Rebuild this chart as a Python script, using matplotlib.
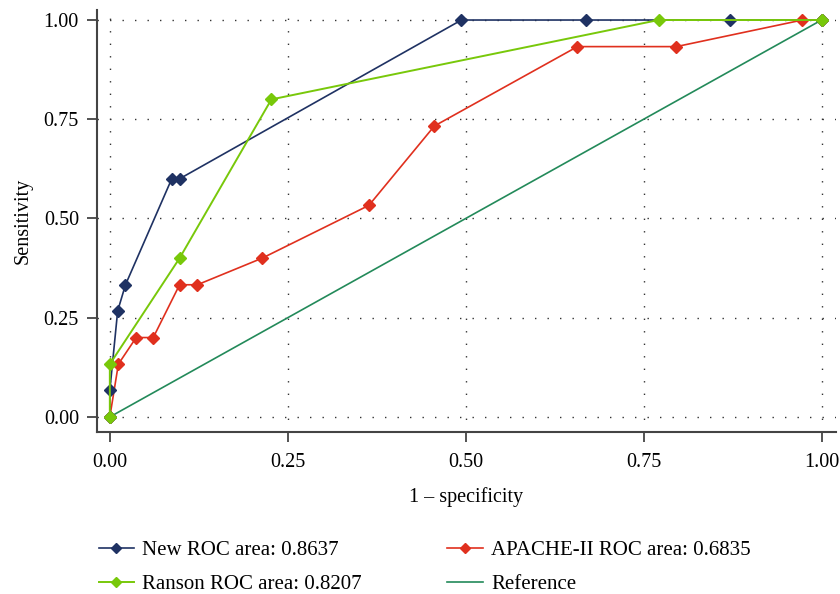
import matplotlib
matplotlib.use("Agg")
import matplotlib.pyplot as plt

plt.rcParams["font.family"] = ["Liberation Serif", "DejaVu Serif"]

NEW_FPR = [0.0, 0.0, 0.011, 0.022, 0.087, 0.098, 0.494, 0.669, 0.872, 1.0]
NEW_TPR = [0.0, 0.067, 0.267, 0.333, 0.6, 0.6, 1.0, 1.0, 1.0, 1.0]

RANSON_FPR = [0.0, 0.0, 0.098, 0.227, 0.771, 1.0]
RANSON_TPR = [0.0, 0.133, 0.4, 0.8, 1.0, 1.0]

APACHE_FPR = [0.0, 0.012, 0.037, 0.061, 0.098, 0.123, 0.214, 0.364, 0.456,
              0.657, 0.796, 0.973, 1.0]
APACHE_TPR = [0.0, 0.133, 0.2, 0.2, 0.333, 0.333, 0.4, 0.533, 0.733,
              0.933, 0.933, 1.0, 1.0]

REF = [0.0, 1.0]

LABELS = ["New ROC area: 0.8637", "Ranson ROC area: 0.8207",
          "APACHE-II ROC area: 0.6835", "Reference"]
TICKS = [0.0, 0.25, 0.5, 0.75, 1.0]

NAVY = "#1f3263"
GREEN = "#78c80a"
RED = "#e0301e"
TEAL = "#238a5a"

fig = plt.figure(figsize=(8.4, 5.94), dpi=100)
ax = fig.add_axes([0.1155, 0.2727, 0.8795, 0.7103])

ax.plot(REF, REF, color=TEAL, lw=1.2, zorder=2)
h_apache, = ax.plot(APACHE_FPR, APACHE_TPR, color=RED, lw=1.2, marker="D",
                    markersize=6.5, zorder=3)
h_ranson, = ax.plot(RANSON_FPR, RANSON_TPR, color=GREEN, lw=1.4, marker="D",
                    markersize=6.5, zorder=4)
h_new, = ax.plot(NEW_FPR, NEW_TPR, color=NAVY, lw=1.2, marker="D",
                 markersize=6.5, zorder=3)
h_ref = plt.Line2D([], [], color=TEAL, lw=1.2)

ax.set_xlim(-0.018, 1.02)
ax.set_ylim(-0.038, 1.025)
ax.set_xticks(TICKS)
ax.set_yticks(TICKS)
ax.set_xticklabels([f"{t:.2f}" for t in TICKS])
ax.set_yticklabels([f"{t:.2f}" for t in TICKS])
ax.grid(True, color="#333333", linestyle=(0, (1, 8)), lw=1.0)
ax.set_axisbelow(True)
for s in ["top", "right"]:
    ax.spines[s].set_visible(False)
for s in ["left", "bottom"]:
    ax.spines[s].set_color("#444444")
    ax.spines[s].set_linewidth(1.5)
ax.tick_params(axis="both", labelsize=14.5, length=7, width=1.3, color="#444444")
ax.tick_params(axis="x", pad=8)
ax.tick_params(axis="y", pad=6)
ax.set_xlabel("1 \u2013 specificity", fontsize=14.5, labelpad=11)
ax.set_ylabel("Sensitivity", fontsize=14.5, labelpad=8)

# legend laid out in two columns under the axes
fig.legend([h_new, h_ranson, h_apache, h_ref], LABELS, ncol=2,
           loc="upper left", bbox_to_anchor=(0.1075, 0.104), frameon=False,
           fontsize=15, handlelength=1.7, handletextpad=0.4,
           columnspacing=4.1, labelspacing=0.7, borderaxespad=0,
           markerscale=0.85)

fig.savefig("out.png", dpi=100)
